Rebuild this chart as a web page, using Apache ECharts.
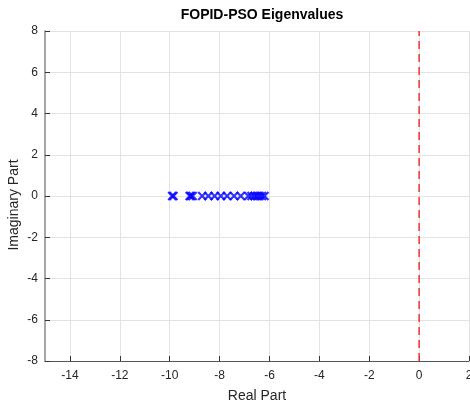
<!DOCTYPE html>
<html>
<head>
<meta charset="utf-8">
<script src="https://cdn.jsdelivr.net/npm/echarts@6/dist/echarts.min.js"></script>
<style>html,body{margin:0;padding:0;background:#fff}#c{width:470px;height:403px}</style>
</head>
<body>
<div id="c"></div>
<script>
const chartTitle = 'FOPID-PSO Eigenvalues';
const xName = 'Real Part';
const yName = 'Imaginary Part';
const realParts = [-9.9, -9.85, -9.2, -9.15, -9.08, -8.7, -8.45, -8.2, -7.95, -7.7, -7.42, -7.15, -6.85, -6.72, -6.6, -6.5, -6.4, -6.3, -6.2];
const imagParts = [0, 0, 0, 0, 0, 0, 0, 0, 0, 0, 0, 0, 0, 0, 0, 0, 0, 0, 0];
const xTicks = [-14, -12, -10, -8, -6, -4, -2, 0, 2];
const yTicks = [-8, -6, -4, -2, 0, 2, 4, 6, 8];
const xRange = [-15, 2];
const yRange = [-8, 8];
const boundaryX = 0;

const points = realParts.map((r, i) => [r, imagParts[i]]);
const font = 'Liberation Sans, Arial, Helvetica, sans-serif';

const chart = echarts.init(document.getElementById('c'));
chart.setOption({
  animation: false,
  backgroundColor: '#fff',
  title: {
    text: chartTitle, left: 257, top: 3, textAlign: 'center',
    textStyle: { fontFamily: font, fontSize: 14, fontWeight: 'bold', color: '#000' }
  },
  grid: { left: 45, right: 1, top: 31, bottom: 42, containLabel: false, outerBoundsMode: 'none' },
  xAxis: {
    type: 'value', min: xRange[0], max: xRange[1],
    name: xName, nameLocation: 'middle', nameGap: 28,
    nameTextStyle: { fontFamily: font, fontSize: 14, color: '#262626' },
    axisLine: { show: true, onZero: false, lineStyle: { color: '#555', width: 1 } },
    axisTick: { show: true, inside: true, length: 5, customValues: xTicks, lineStyle: { color: '#333' } },
    axisLabel: { customValues: xTicks, fontFamily: font, fontSize: 12, color: '#262626', margin: 9 },
    splitLine: { show: true, lineStyle: { color: '#e3e3e3', width: 1 } }
  },
  yAxis: {
    type: 'value', min: yRange[0], max: yRange[1], interval: 2,
    name: yName, nameLocation: 'middle', nameGap: 24, nameMoveOverlap: false,
    nameTextStyle: { fontFamily: font, fontSize: 14, color: '#262626', padding: [0, 18, 0, 0] },
    axisLine: { show: true, onZero: false, lineStyle: { color: '#8a8a8a', width: 1.5 } },
    axisTick: { show: true, inside: true, length: 5, lineStyle: { color: '#333' } },
    axisLabel: { fontFamily: font, fontSize: 12, color: '#262626', margin: 7 },
    splitLine: { show: true, lineStyle: { color: '#e3e3e3', width: 1 } }
  },
  series: [
    {
      type: 'line',
      data: [[boundaryX, yRange[0]], [boundaryX, yRange[1]]],
      showSymbol: false, symbol: 'none',
      lineStyle: { color: '#f03232', width: 1.5, type: [8, 5] },
      z: 2
    },
    {
      type: 'scatter',
      data: points,
      symbol: 'path://M0,0L10,10M10,0L0,10',
      symbolSize: 8,
      itemStyle: { color: 'none', borderColor: '#0000ff', borderWidth: 2.2 },
      z: 3
    }
  ]
});
</script>
</body>
</html>
